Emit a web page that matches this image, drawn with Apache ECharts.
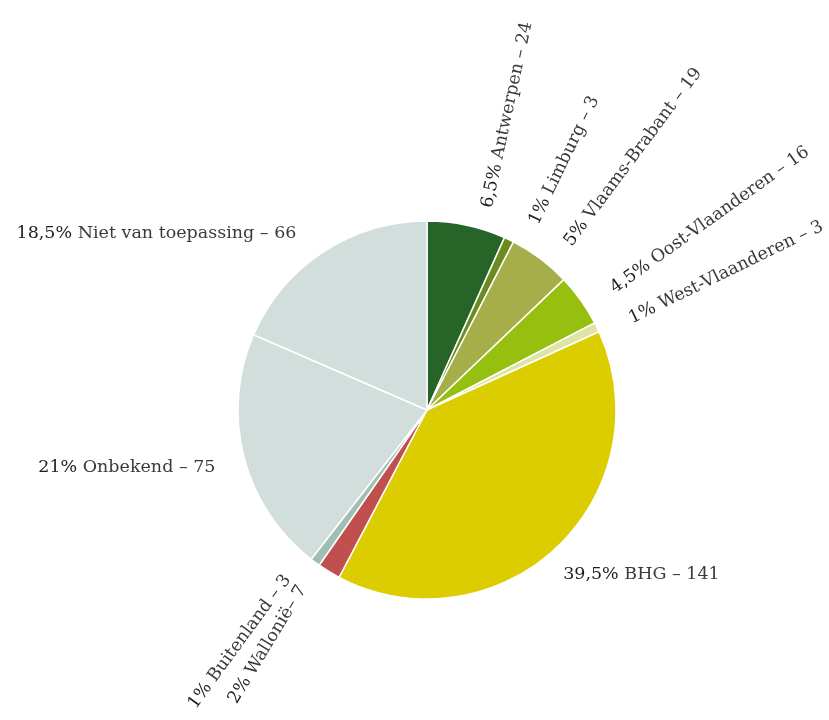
<!DOCTYPE html>
<html>
<head>
<meta charset="utf-8">
<script src="https://cdn.jsdelivr.net/npm/echarts@6/dist/echarts.min.js"></script>
<style>
  html, body { margin: 0; padding: 0; background: #fff; }
  #chart { width: 829px; height: 720px; }
</style>
</head>
<body>
<div id="chart"></div>
<script>
// regio's, vanaf 12 uur met de klok mee
const regions = ["Antwerpen", "Limburg", "Vlaams-Brabant", "Oost-Vlaanderen", "West-Vlaanderen", "BHG", "Wallonië", "Buitenland", "Onbekend", "Niet van toepassing"];
const counts = [24, 3, 19, 16, 3, 141, 7, 3, 75, 66];
const pctLabels = ["6,5%", "1%", "5%", "4,5%", "1%", "39,5%", "2%", "1%", "21%", "18,5%"];
const colors = ["#276428", "#6a8c1f", "#a6ae4a", "#97bf10", "#dde4a6", "#dccd00", "#c0504d", "#9fbfb4", "#d2dedc", "#d2dedc"];
// kleine stukken krijgen een radiaal label
const radialLabel = [true, true, true, true, true, false, true, true, false, false];
// kleine verschuivingen van de horizontale labels
const labelOffsets = [null, null, null, null, null, [-23, 14], null, null, [6, 6], [0, -3]];

const chart = echarts.init(document.getElementById("chart"));

const pieData = regions.map((name, i) => {
  const sep = name === "Wallonië" ? "– " : " – ";
  const label = {
    rotate: radialLabel[i] ? "radial" : 0,
    formatter: "{p|" + pctLabels[i] + "} " + name + sep + counts[i],
  };
  if (labelOffsets[i]) label.offset = labelOffsets[i];
  return {
    name: name,
    value: counts[i],
    itemStyle: { color: colors[i] },
    label: label,
  };
});

chart.setOption({
  animation: false,
  series: [
    {
      type: "pie",
      center: [427, 410],
      radius: 189,
      startAngle: 90,
      clockwise: true,
      avoidLabelOverlap: false,
      data: pieData,
      itemStyle: {
        borderColor: "#fff",
        borderWidth: 1.5,
      },
      label: {
        show: true,
        position: "outside",
        fontFamily: "DejaVu Serif",
        fontSize: 17.5,
        color: "#3a3a3a",
        rich: {
          p: { fontFamily: "DejaVu Serif", fontSize: 17.5, color: "#1e1e1e" },
        },
      },
      labelLine: {
        show: false,
        length: 18,
        length2: 12,
      },
    },
  ],
});
</script>
</body>
</html>
